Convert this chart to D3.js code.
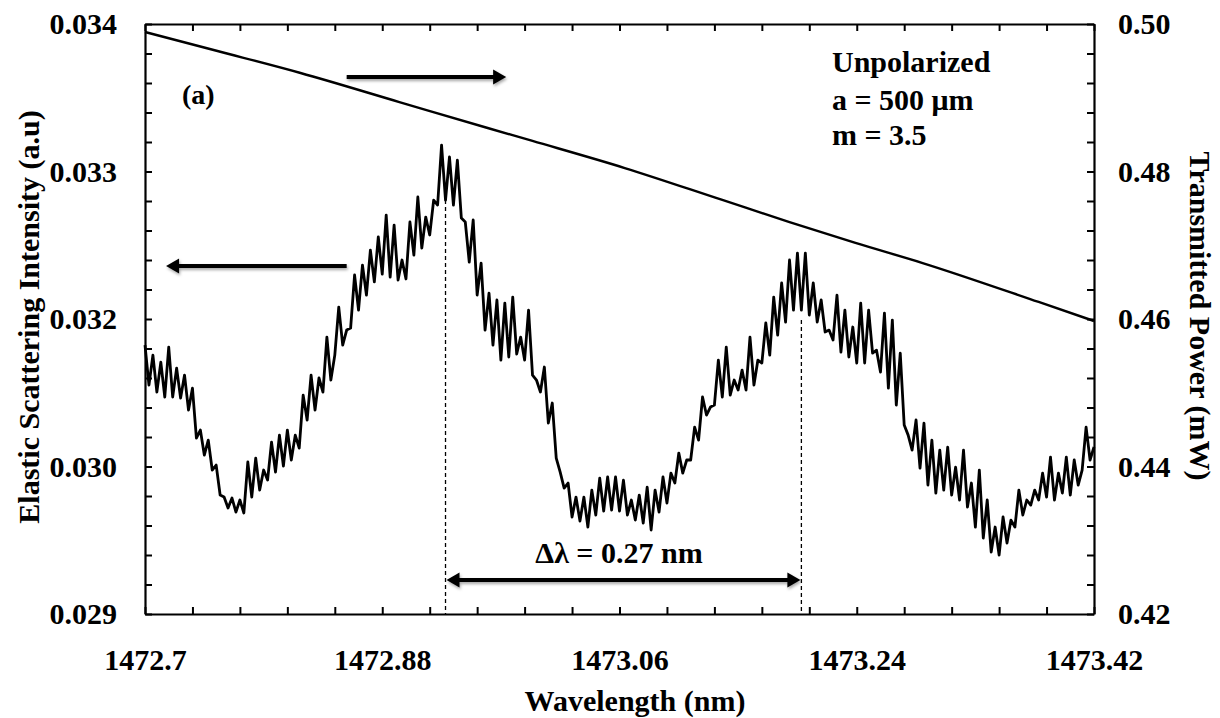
<!DOCTYPE html>
<html><head><meta charset="utf-8">
<script src="https://cdn.jsdelivr.net/npm/d3@7"></script>
<style>
body{margin:0;background:#fff;}
svg{display:block;}
text{font-family:"Liberation Serif","Times New Roman",serif;font-weight:bold;fill:#000;}
</style>
</head><body>
<svg id="c" width="1220" height="718"></svg>
<script>
// ---------------- data ----------------
const scatterWlStart = 1472.7, scatterWlStep = 0.003;   // sampling grid (nm)
const scatterIntensity = [
0.031279,0.030940,0.031194,0.030881,0.031135,0.030839,0.031262,0.030839,0.031084,0.030830,
0.031025,0.030728,0.030914,0.030491,0.030559,0.030347,0.030474,0.030220,0.030262,0.030008,
0.029991,0.029898,0.029983,0.029864,0.029966,0.029856,0.030288,0.029991,0.030321,0.030050,
0.030220,0.030135,0.030457,0.030203,0.030516,0.030254,0.030559,0.030305,0.030516,0.030406,
0.030855,0.030644,0.031025,0.030728,0.031000,0.030881,0.031347,0.030983,0.031194,0.031601,
0.031279,0.031406,0.031423,0.031873,0.031576,0.031957,0.031703,0.032084,0.031814,0.032195,
0.031881,0.032381,0.031855,0.032296,0.031830,0.032000,0.031839,0.032322,0.032042,0.032534,
0.032101,0.032364,0.032212,0.032508,0.032466,0.032974,0.032508,0.032873,0.032466,0.032847,
0.032355,0.032322,0.031983,0.032339,0.031703,0.031974,0.031406,0.031720,0.031279,0.031661,
0.031152,0.031635,0.031178,0.031686,0.031203,0.031347,0.031152,0.031576,0.031025,0.030983,
0.030881,0.031093,0.030618,0.030788,0.030321,0.030203,0.030067,0.030110,0.029822,0.029991,
0.029788,0.029991,0.029737,0.030050,0.029839,0.030152,0.029873,0.030161,0.029881,0.030161,
0.029873,0.030135,0.029839,0.029966,0.029796,0.030008,0.029771,0.030076,0.029712,0.030050,
0.029864,0.030161,0.029940,0.030194,0.030110,0.030364,0.030194,0.030305,0.030305,0.030584,
0.030474,0.030839,0.030686,0.030754,0.030771,0.031152,0.030839,0.031262,0.030855,0.030983,
0.030898,0.031067,0.030898,0.031347,0.030940,0.031152,0.031127,0.031466,0.031194,0.031686,
0.031364,0.031805,0.031474,0.032000,0.031576,0.032059,0.031576,0.032059,0.031534,0.031805,
0.031474,0.031661,0.031390,0.031406,0.031322,0.031703,0.031220,0.031576,0.031178,0.031432,
0.031127,0.031635,0.031127,0.031576,0.031211,0.031236,0.031050,0.031550,0.030914,0.031491,
0.030771,0.031211,0.030601,0.030516,0.030389,0.030644,0.030236,0.030618,0.030093,0.030474,
0.030025,0.030389,0.030050,0.030415,0.030008,0.030245,0.029966,0.030389,0.029906,0.030110,
0.029737,0.030220,0.029644,0.029966,0.029525,0.029737,0.029500,0.029822,0.029601,0.029796,
0.029737,0.030050,0.029839,0.029966,0.029923,0.030050,0.029966,0.030194,0.029991,0.030330,
0.029966,0.030194,0.030025,0.030330,0.030008,0.030305,0.030093,0.030220,0.030584,0.030305,
0.030415];
const powerWavelength = [1472.700,1472.755,1472.818,1472.893,1472.960,1472.994,1473.064,1473.138,1473.189,1473.239,1473.290,1473.378,1473.420];
const powerValues     = [0.49892,0.49634,0.49336,0.48942,0.48590,0.48414,0.48047,0.47614,0.47315,0.47031,0.46759,0.46231,0.45973];

const xTickLabels = ["1472.7","1472.88","1473.06","1473.24","1473.42"];
const leftTickLabels = ["0.029","0.030","0.032","0.033","0.034"];
const rightTickLabels = ["0.42","0.44","0.46","0.48","0.50"];
const peakWavelengths = [1472.928, 1473.198];
const peakIntensities = [0.032508, 0.031491];
const infoLines = ["Unpolarized","a = 500 \u03bcm","m = 3.5"];

// ---------------- layout ----------------
const L = 145, R = 1094, T = 24, B = 614;
const svg = d3.select("#c");
const x = d3.scaleLinear([1472.7, 1473.42], [L, R]);
const yL = d3.scaleLinear([0.029, 0.034], [B, T]);
const yR = d3.scaleLinear([0.42, 0.50], [B, T]);

const defs = svg.append("defs");
const f = defs.append("filter").attr("id","sh").attr("x","-20%").attr("y","-100%").attr("width","140%").attr("height","300%");
f.append("feDropShadow").attr("dx",1).attr("dy",2).attr("stdDeviation",1.6).attr("flood-color","#000").attr("flood-opacity",0.35);

const xTicks = d3.range(21).map(i => 1472.7 + i * 0.036);
const lTicks = d3.range(21).map(i => 0.029 + i * 0.00025);
const rTicks = d3.range(21).map(i => 0.42 + i * 0.004);

function styleAxis(g, fs){
  g.attr("font-family", null).attr("font-size", null);
  g.select(".domain").attr("stroke","#000").attr("stroke-width",2.2);
  g.selectAll(".tick line").attr("stroke","#000").attr("stroke-width",2);
  g.selectAll(".tick text").style("font-size", fs + "px");
}

const gx = svg.append("g").attr("transform",`translate(0,${B})`)
  .call(d3.axisBottom(x).tickValues(xTicks).tickSizeInner(-7).tickSizeOuter(0).tickPadding(35)
    .tickFormat((d,i) => i % 5 === 0 ? xTickLabels[i/5] : ""));
styleAxis(gx, 30);
const gt = svg.append("g").attr("transform",`translate(0,${T})`)
  .call(d3.axisTop(x).tickValues(xTicks).tickSizeInner(-7).tickSizeOuter(0).tickFormat(""));
styleAxis(gt, 30);
const gl = svg.append("g").attr("transform",`translate(${L},0)`)
  .call(d3.axisLeft(yL).tickValues(lTicks).tickSizeInner(-7).tickSizeOuter(0).tickPadding(28)
    .tickFormat((d,i) => i % 5 === 0 ? leftTickLabels[i/5] : ""));
styleAxis(gl, 30);
const gr = svg.append("g").attr("transform",`translate(${R},0)`)
  .call(d3.axisRight(yR).tickValues(rTicks).tickSizeInner(-7).tickSizeOuter(0).tickPadding(24)
    .tickFormat((d,i) => i % 5 === 0 ? rightTickLabels[i/5] : ""));
styleAxis(gr, 30);

// ---------------- series ----------------
const scatterData = scatterIntensity.map((v,i) => [scatterWlStart + i * scatterWlStep, v]);
svg.append("path").datum(scatterData)
  .attr("fill","none").attr("stroke","#000").attr("stroke-width",2.8).attr("stroke-linejoin","round")
  .attr("d", d3.line().x(d => x(d[0])).y(d => yL(d[1])));

const powerData = powerWavelength.map((w,i) => [w, powerValues[i]]);
svg.append("path").datum(powerData)
  .attr("fill","none").attr("stroke","#000").attr("stroke-width",2.4).attr("stroke-linejoin","round")
  .attr("d", d3.line().curve(d3.curveMonotoneX).x(d => x(d[0])).y(d => yR(d[1])));

// dashed peak markers
peakWavelengths.forEach((w,i) => {
  svg.append("line").attr("x1",x(w)).attr("x2",x(w)).attr("y1",yL(peakIntensities[i])).attr("y2",B)
    .attr("stroke","#000").attr("stroke-width",1.3).attr("stroke-dasharray","4,3");
});

// ---------------- arrows ----------------
function arrow(x1, y1, x2, y2, both){
  const g = svg.append("g").attr("filter","url(#sh)");
  const dir = Math.sign(x2 - x1);
  const hl = 13, hw = 7.5;
  g.append("line").attr("x1", both ? x1 + dir*hl*0.8 : x1).attr("y1",y1)
    .attr("x2", x2 - dir*hl*0.8).attr("y2",y2).attr("stroke","#000").attr("stroke-width",4);
  g.append("path").attr("d",`M${x2},${y2} L${x2-dir*hl},${y2-hw} L${x2-dir*hl},${y2+hw} Z`).attr("fill","#000");
  if (both) g.append("path").attr("d",`M${x1},${y1} L${x1+dir*hl},${y1-hw} L${x1+dir*hl},${y1+hw} Z`).attr("fill","#000");
}
arrow(x(1472.853), yR(0.49281), x(1472.974), yR(0.49281), false);
arrow(x(1472.853), yL(0.031949), x(1472.716), yL(0.031949), false);
arrow(x(peakWavelengths[0]) + 1, yL(0.029288), x(peakWavelengths[1]) - 1, yL(0.029288), true);

// ---------------- texts ----------------
svg.append("text").attr("x",182).attr("y",104).style("font-size","28px").text("(a)");
infoLines.forEach((t,i) => {
  svg.append("text").attr("x",832).attr("y",[72,110,145][i]).style("font-size","30px").text(t);
});
svg.append("text").attr("x",619).attr("y",563).attr("text-anchor","middle").style("font-size","30px")
  .text("\u0394\u03bb = 0.27 nm");

svg.append("text").attr("x",635).attr("y",711).attr("text-anchor","middle").style("font-size","30px")
  .text("Wavelength (nm)");
svg.append("text").attr("transform","translate(39,317) rotate(-90)").attr("text-anchor","middle")
  .style("font-size","30px").text("Elastic Scattering Intensity (a.u)");
svg.append("text").attr("transform","translate(1190,316) rotate(90)").attr("text-anchor","middle")
  .style("font-size","30px").text("Transmitted Power (mW)");
</script>
</body></html>
